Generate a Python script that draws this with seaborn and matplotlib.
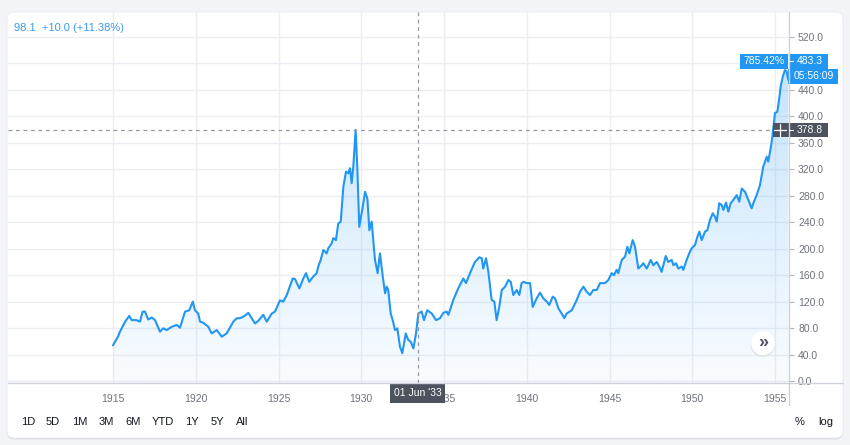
import numpy as np
import pandas as pd
import seaborn as sns
import matplotlib
matplotlib.use("Agg")
import matplotlib.pyplot as plt
from matplotlib.patches import FancyBboxPatch, Rectangle, Polygon, Circle
from matplotlib.transforms import blended_transform_factory

# ---------------- data ----------------
years = [1915.00, 1915.30, 1915.42, 1915.73, 1915.98, 1916.13, 1916.43, 1916.63, 1916.79, 1916.93,
         1917.13, 1917.34, 1917.54, 1917.84, 1918.04, 1918.24, 1918.55, 1918.85, 1919.05, 1919.35,
         1919.61, 1919.82, 1919.95, 1920.15, 1920.26, 1920.46, 1920.76, 1920.96, 1921.27, 1921.57,
         1921.87, 1922.27, 1922.47, 1922.67, 1922.87, 1923.18, 1923.38, 1923.58, 1923.78, 1924.08,
         1924.29, 1924.59, 1924.79, 1925.09, 1925.29, 1925.50, 1925.86, 1926.00, 1926.26, 1926.50,
         1926.66, 1926.86, 1927.10, 1927.31, 1927.40, 1927.55, 1927.71, 1927.91, 1928.01, 1928.21,
         1928.31, 1928.47, 1928.61, 1928.76, 1928.92, 1929.08, 1929.22, 1929.32, 1929.42, 1929.52,
         1929.66, 1929.76, 1929.88, 1930.09, 1930.23, 1930.37, 1930.49, 1930.63, 1930.83, 1930.99,
         1931.13, 1931.30, 1931.44, 1931.54, 1931.63, 1931.78, 1931.90, 1932.04, 1932.18, 1932.34,
         1932.48, 1932.69, 1932.84, 1932.99, 1933.15, 1933.31, 1933.45, 1933.65, 1933.79, 1933.99,
         1934.26, 1934.52, 1934.76, 1934.96, 1935.16, 1935.26, 1935.36, 1935.56, 1935.86, 1936.17,
         1936.33, 1936.57, 1936.87, 1937.13, 1937.28, 1937.37, 1937.54, 1937.68, 1937.88, 1938.04,
         1938.18, 1938.34, 1938.49, 1938.69, 1938.89, 1939.03, 1939.19, 1939.39, 1939.55, 1939.69,
         1939.83, 1939.99, 1940.20, 1940.36, 1940.60, 1940.80, 1941.00, 1941.21, 1941.36, 1941.57,
         1941.71, 1941.91, 1942.11, 1942.27, 1942.41, 1942.72, 1943.02, 1943.22, 1943.42, 1943.62,
         1943.82, 1944.02, 1944.23, 1944.43, 1944.73, 1944.93, 1945.13, 1945.27, 1945.43, 1945.53,
         1945.74, 1945.94, 1946.08, 1946.20, 1946.40, 1946.54, 1946.74, 1946.95, 1947.04, 1947.25,
         1947.49, 1947.65, 1947.85, 1948.01, 1948.15, 1948.40, 1948.55, 1948.76, 1948.86, 1949.02,
         1949.16, 1949.36, 1949.46, 1949.66, 1949.86, 1949.97, 1950.17, 1950.31, 1950.43, 1950.57,
         1950.77, 1950.91, 1951.07, 1951.24, 1951.37, 1951.48, 1951.63, 1951.78, 1951.88, 1952.04,
         1952.18, 1952.32, 1952.48, 1952.69, 1952.84, 1952.99, 1953.19, 1953.39, 1953.59, 1953.69,
         1953.89, 1954.09, 1954.29, 1954.50, 1954.59, 1954.74, 1954.82, 1954.92, 1955.00, 1955.14,
         1955.26, 1955.34, 1955.47, 1955.60, 1955.70, 1955.80]
values = [54, 67, 74.6, 89.7, 98.3, 92, 92, 89.7, 104.8, 105,
          93, 96, 92, 74.6, 79.7, 77, 82, 84.7, 80.6, 104.8,
          107, 120, 107, 102, 89.7, 88, 82, 72, 77, 67,
          72, 89.7, 94.8, 95, 97, 103, 95, 87, 91, 100,
          89.7, 102, 105, 122, 120, 130, 155, 154, 140, 155,
          163, 150, 158, 163, 173, 183, 198, 193, 200.7, 208,
          216, 213, 238, 241, 294, 316.5, 314, 321.7, 299, 324,
          379.6, 324, 233, 263.6, 286, 276, 228, 241, 183, 163,
          193, 158, 132.6, 142.6, 137.6, 102, 92, 77, 79.7, 52,
          42, 72, 62, 59.4, 49.4, 72, 102, 105, 92, 107,
          102, 92, 95, 103, 105, 100, 107, 122.5, 140, 155,
          148, 163, 180, 187, 185.6, 170, 185.6, 165, 122.5, 120,
          92, 112, 137.6, 142.6, 152.7, 150, 130, 137.6, 130, 148,
          150, 148, 148, 112, 125, 133.5, 125, 120, 115, 127.5,
          125, 110, 102, 95, 102, 107, 122.5, 135, 142.6, 135,
          130, 137.6, 137.6, 148, 148, 152.7, 163, 160, 168, 163,
          183, 188, 203, 193, 213, 203, 170, 175, 178, 170,
          183, 175, 180, 173, 165, 189, 180, 183, 175, 178,
          170, 173, 168, 183, 195.5, 200.7, 205.7, 218, 225.8, 213,
          225.8, 228, 243.5, 253.6, 248.5, 241, 268.7, 266, 258.6, 269.7,
          256, 268.7, 273.7, 281, 271, 291, 286, 273.7, 261, 268.7,
          281, 296, 324, 339, 331.6, 352, 365, 387, 405, 407,
          427.5, 445, 460, 470, 468, 455]

x_ticks = [1915, 1920, 1925, 1930, 1935, 1940, 1945, 1950, 1955]
x_tick_labels = ["1915", "1920", "1925", "1930", "1935", "1940", "1945", "1950", "1955"]
y_ticks = [0, 40, 80, 120, 160, 200, 240, 280, 320, 360, 400, 440, 480, 520]
y_tick_labels = ["0.0", "40.0", "80.0", "120.0", "160.0", "200.0", "240.0", "280.0",
                 "320.0", "360.0", "400.0", "440.0", "", "520.0"]

header_text = "98.1  +10.0 (+11.38%)"
crosshair_date = 1933 + 5 / 12
crosshair_label = "01 Jun '33"
crosshair_value = 378.8
crosshair_value_label = "378.8"
last_value = 483.3
last_value_label = "483.3"
last_pct_label = "785.42%"
countdown_label = "05:56:09"
range_buttons = ["1D", "5D", "1M", "3M", "6M", "YTD", "1Y", "5Y", "All"]
right_buttons = ["%", "log"]

# ---------------- style / layout ----------------
sns.set_theme(style="white")
plt.rcParams['font.family'] = ['Liberation Sans', 'DejaVu Sans']

BLUE = '#2196f3'
DARK = '#4c525e'
TXT = '#6f727c'
GRID = '#eceef3'
AXL = '#cfd2da'

W, H = 850, 445
fig = plt.figure(figsize=(W / 100, H / 100), dpi=100)
fig.patch.set_facecolor('#f3f4f8')

bg = fig.add_axes([0, 0, 1, 1], zorder=0)
bg.set_xlim(0, W); bg.set_ylim(H, 0); bg.axis('off')
bg.add_patch(FancyBboxPatch((7, 13.5), 836, 426, boxstyle="round,pad=0,rounding_size=7",
                            fc='#dcdfe6', ec='none'))
bg.add_patch(FancyBboxPatch((7, 12), 836, 426, boxstyle="round,pad=0,rounding_size=7",
                            fc='white', ec='#e8eaef', lw=0.6))

L, R, T, B = 8, 789, 12, 383
PX_YEAR = 16.55
X0_PX = 113
ax = fig.add_axes([L / W, 1 - B / H, (R - L) / W, (B - T) / H], zorder=1)
ax.patch.set_alpha(0)
xmin = 1915 + (L - X0_PX) / PX_YEAR
xmax = 1915 + (R - X0_PX) / PX_YEAR
ymin, ymax = -3.0, 557.8
ax.set_xlim(xmin, xmax)
ax.set_ylim(ymin, ymax)

df = pd.DataFrame({"year": years, "value": values})

# gradient area fill
grad = np.linspace(0.30, 0.03, 256).reshape(-1, 1)
rgba = np.zeros((256, 1, 4))
rgba[..., 0] = 33 / 255; rgba[..., 1] = 150 / 255; rgba[..., 2] = 243 / 255
rgba[..., 3] = grad
img = ax.imshow(rgba, extent=[xmin, xmax, ymin, ymax], aspect='auto', origin='upper',
                zorder=2, interpolation='bilinear')
verts = np.column_stack([np.r_[df.year.iloc[0], df.year.values, df.year.iloc[-1]],
                         np.r_[ymin, df.value.values, ymin]])
clip = Polygon(verts, closed=True, fc='none', ec='none')
ax.add_patch(clip)
img.set_clip_path(clip)

sns.lineplot(data=df, x="year", y="value", ax=ax, color=BLUE, linewidth=1.5, zorder=3)

ax.set_xlabel(""); ax.set_ylabel("")
ax.set_xticks(x_ticks)
ax.set_xticklabels(x_tick_labels)
ax.yaxis.tick_right()
ax.set_yticks(y_ticks)
ax.set_yticklabels(y_tick_labels)
ax.grid(True, color=GRID, lw=1)
for s in ax.spines.values():
    s.set_visible(False)
ax.tick_params(axis='x', length=0, pad=8, labelsize=7.5, labelcolor=TXT)
ax.tick_params(axis='y', length=3.5, width=0.8, color='#b2b5be', pad=3, labelsize=7.5,
               labelcolor=TXT, direction='out', right=True, left=False)

# crosshair
ax.axvline(crosshair_date, color='#9598a1', lw=0.9, ls=(0, (3, 3)), zorder=4)
ax.axhline(crosshair_value, color='#9598a1', lw=0.9, ls=(0, (3, 3)), zorder=4)

# ---------------- overlay ----------------
ov = fig.add_axes([0, 0, 1, 1], zorder=3)
ov.set_xlim(0, W); ov.set_ylim(H, 0); ov.axis('off'); ov.patch.set_alpha(0)

ov.plot([8, 843], [383, 383], color=AXL, lw=1)
ov.plot([789, 789], [12, 405], color=AXL, lw=1)

def year_px(yr):
    return X0_PX + (yr - 1915) * PX_YEAR

def val_px(v):
    return T + (ymax - v) / (ymax - ymin) * (B - T)

ov.text(14, 28, header_text, color='#3a9cf0', fontsize=8, va='center', ha='left')

# crosshair date label
cx = year_px(crosshair_date)
ov.add_patch(Rectangle((cx - 27.5, 384), 55, 19, fc=DARK, ec='none'))
ov.text(cx, 393.5, crosshair_label, color='white', fontsize=7.5, ha='center', va='center')

# crosshair price label
cy = val_px(crosshair_value)
ov.add_patch(Rectangle((773, cy - 7), 55, 14, fc=DARK, ec='none'))
ov.plot([774, 786], [cy, cy], color='white', lw=0.9)
ov.plot([780, 780], [cy - 6, cy + 6], color='white', lw=0.9)
ov.plot([789, 793], [cy, cy], color='white', lw=0.8)
ov.text(797, cy, crosshair_value_label, color='white', fontsize=7.5, ha='left', va='center')

# last value labels
ly = val_px(last_value)
ov.add_patch(Rectangle((740, ly - 7.5), 48, 15, fc=BLUE, ec='none'))
ov.text(764, ly, last_pct_label, color='white', fontsize=7.5, ha='center', va='center')
ov.add_patch(Rectangle((789, ly - 7.5), 39, 15, fc=BLUE, ec='none'))
ov.plot([789, 793], [ly, ly], color='white', lw=0.8)
ov.text(797, ly, last_value_label, color='white', fontsize=7.5, ha='left', va='center')
ov.add_patch(Rectangle((788, ly + 7.5), 50, 15, fc=BLUE, ec='none'))
ov.text(794, ly + 15, countdown_label, color='white', fontsize=7.5, ha='left', va='center')

# scroll button
ov.add_patch(Circle((763, 344.5), 12.5, fc='#e3e5ea', ec='none'))
ov.add_patch(Circle((763, 343), 12, fc='white', ec='none'))
ov.text(763.5, 342, "\u00bb", color='#50535e', fontsize=13, ha='center', va='center',
        fontweight='bold')

# range buttons
btn_x = [28.5, 53, 80, 106.5, 133.5, 163, 192, 217.5, 242.5]
for lab, x in zip(range_buttons, btn_x):
    ov.text(x, 422, lab, color='#131722', fontsize=8, ha='center', va='center')
for lab, x in zip(right_buttons, [800, 825.5]):
    ov.text(x, 422, lab, color='#131722', fontsize=8, ha='center', va='center')

fig.savefig("out.png", dpi=100, facecolor=fig.get_facecolor())
